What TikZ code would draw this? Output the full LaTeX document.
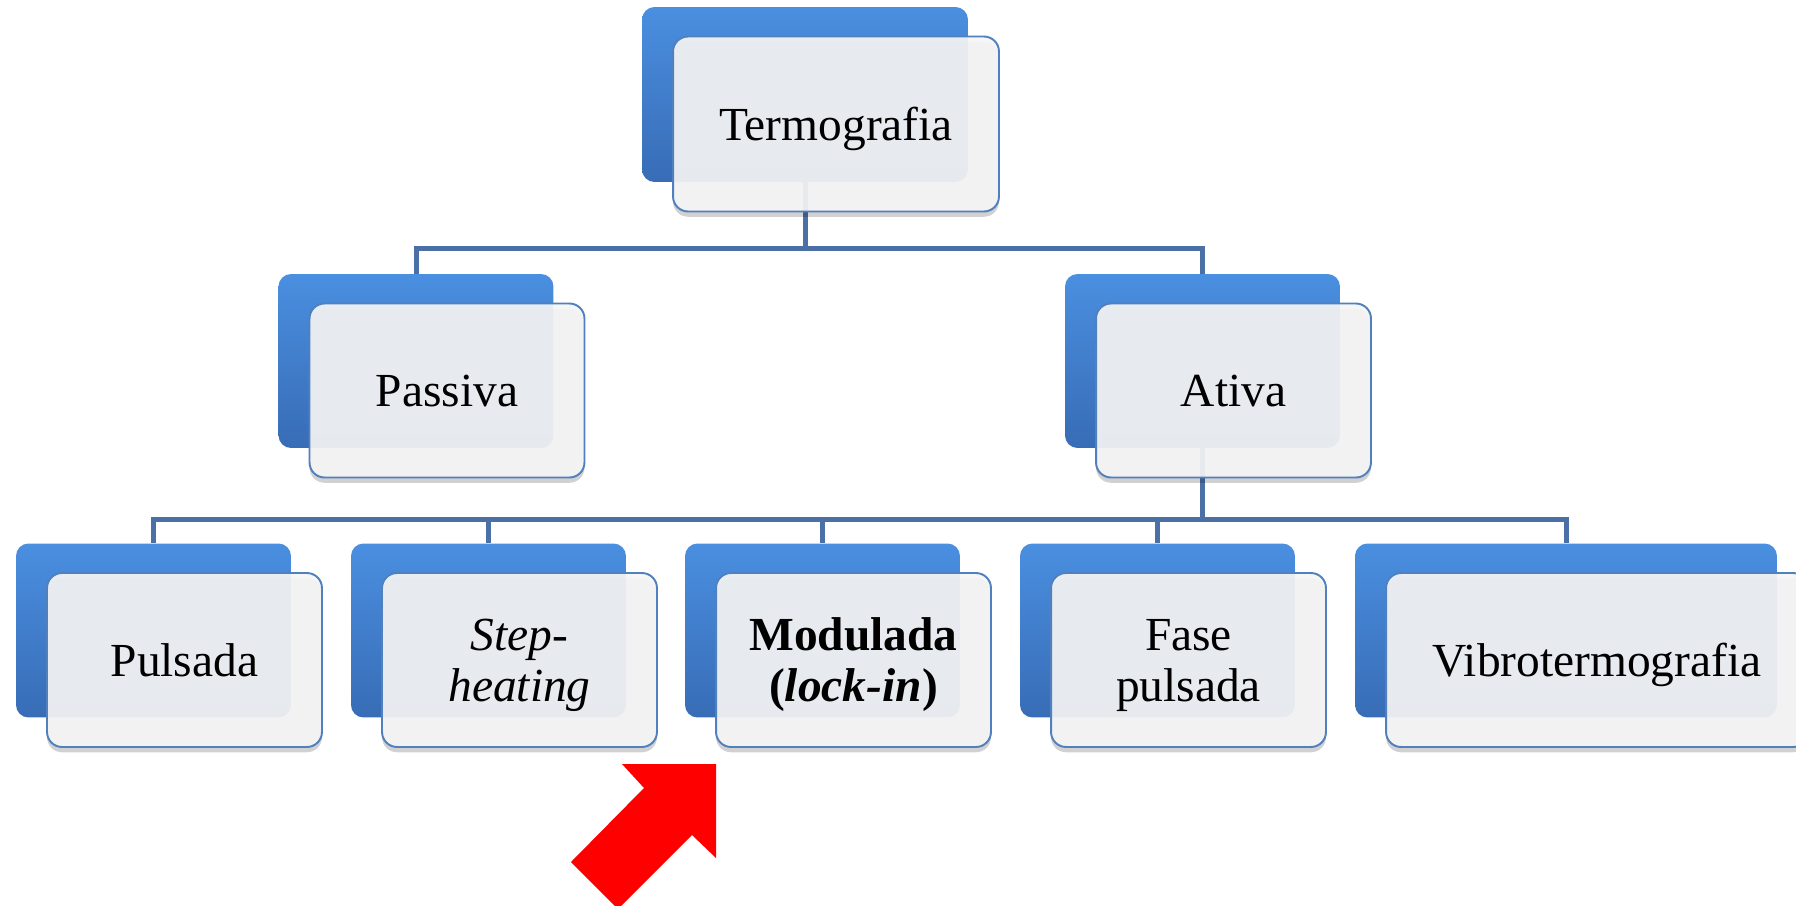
\documentclass[tikz,border=0pt]{standalone}
\usepackage{fontspec}
\setmainfont{Liberation Serif}
\usetikzlibrary{calc,shadows}
\definecolor{btop}{HTML}{4A8FE0}
\definecolor{bbot}{HTML}{386CB6}
\definecolor{fline}{HTML}{5080BE}
\definecolor{ffill}{HTML}{F5F5F5}
\definecolor{clink}{HTML}{4A70A6}

\begin{document}
\begin{tikzpicture}[
  x=0.02cm, y=-0.02cm,
  back/.style={rectangle, rounded corners=0.25cm, top color=btop, bottom color=bbot,
               minimum width=5.5cm, minimum height=3.48cm, inner sep=0pt},
  front/.style={rectangle, rounded corners=0.3cm, draw=fline, line width=1.1pt,
                fill=ffill, fill opacity=0.93, text opacity=1,
                minimum width=5.5cm, minimum height=3.48cm, inner sep=0pt,
                text depth=0pt, align=center, font=\fontsize{27}{29}\selectfont,
                drop shadow={shadow xshift=0pt, shadow yshift=-3pt, opacity=0.18, fill=black}},
  link/.style={draw=clink, line width=0.1cm}
]
\useasboundingbox (0,0) rectangle (1796,906);
\clip (0,0) rectangle (1796,906);

% --- back (blue) boxes ---
\node[back, minimum width=6.52cm, minimum height=3.5cm] (termoB) at (805,94.5) {};
\node[back] (passB) at (416,361) {};
\node[back] (ativB) at (1202.5,361) {};
\node[back] (pulsB) at (153.5,630.5) {};
\node[back] (stepB) at (488.5,630.5) {};
\node[back] (modB)  at (822.5,630.5) {};
\node[back] (faseB) at (1157.5,630.5) {};
\node[back, minimum width=8.44cm] (vibB) at (1566,630.5) {};

% --- connectors ---
\draw[link] (termoB.south) -- ++(0,66) -| (passB.north);
\draw[link] (termoB.south) -- ++(0,66) -| (ativB.north);
\foreach \c in {pulsB,stepB,modB,faseB,vibB}
  \draw[link] (ativB.south) -- ++(0,71) -| (\c.north);

% --- front (light) boxes ---
\node[front, minimum width=6.52cm, minimum height=3.5cm] (termo)
  at ($(termoB)+(31,29.5)$) {Termografia};
\node[front] (pass) at ($(passB)+(31,29.5)$) {Passiva};
\node[front] (ativ) at ($(ativB)+(31,29.5)$) {Ativa};
\node[front] (puls) at ($(pulsB)+(31,29.5)$) {Pulsada};
\node[front] (step) at ($(stepB)+(31,29.5)$) {\textit{Step-}\\\textit{heating}};
\node[front] (mod)  at ($(modB)+(31,29.5)$) {\textbf{Modulada}\\\textbf{(\textit{lock-in})}};
\node[front] (fase) at ($(faseB)+(31,29.5)$) {Fase\\pulsada};
\node[front, minimum width=8.44cm] (vib) at ($(vibB)+(31,29.5)$) {Vibrotermografia};

% --- red pointer ---
\fill[red] (622,764) -- (716,764) -- (716,858) -- (692,835) -- (618,909)
  -- (571,862) -- (644,788) -- cycle;

\end{tikzpicture}
\end{document}
